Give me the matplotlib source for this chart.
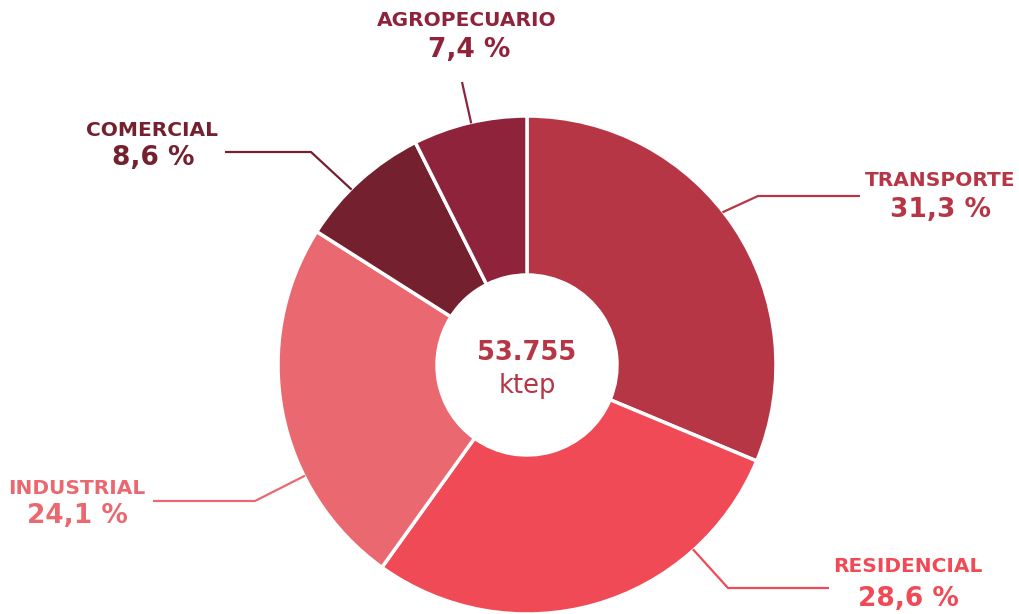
import numpy as np
import matplotlib
matplotlib.use("Agg")
import matplotlib.pyplot as plt

categories = ["TRANSPORTE", "RESIDENCIAL", "INDUSTRIAL", "COMERCIAL", "AGROPECUARIO"]
values = [31.3, 28.6, 24.1, 8.6, 7.4]
pct_labels = ["31,3 %", "28,6 %", "24,1 %", "8,6 %", "7,4 %"]
total_label = "53.755"
unit_label = "ktep"

colors = ["#B73645", "#EF4A55", "#EA6870", "#74202F", "#8E233B"]

W, H = 1019, 614
fig = plt.figure(figsize=(W / 100, H / 100), dpi=100)
ax = fig.add_axes([0, 0, 1, 1])

def py(y):
    return H - y

cx, cy = 527, 365
R, r_in = 249, 90

ax.pie(values, colors=colors, startangle=90, counterclock=False,
       center=(cx, py(cy)), radius=R,
       wedgeprops=dict(width=R - r_in, edgecolor="white", linewidth=2.5))
ax.set_xlim(0, W)
ax.set_ylim(0, H)
ax.set_aspect("equal")
ax.axis("off")

# layout: leader anchor angle (deg, clockwise from top), elbow, end, label centre
anchor_deg = [52, 138, 243.5, 315, 347]
elbows = [(758, 196), (728, 588), (255, 501), (311, 152), None]
ends = [(860, 196), (829, 588), (153, 501), (225, 152), (462, 82)]
label_pos = [(940, 181), (908, 567), (77, 488), (152, 130), (467, 20)]
pct_pos = [(941, 210), (908, 599), (77, 516), (153, 158), (469, 50)]

fam = ["DejaVu Sans"]
for i, cat in enumerate(categories):
    a = np.deg2rad(anchor_deg[i])
    sx = cx + (R - 1) * np.sin(a)
    sy = cy - (R - 1) * np.cos(a)
    pts = [(sx, sy)]
    if elbows[i] is not None:
        pts.append(elbows[i])
    pts.append(ends[i])
    xs = [p[0] for p in pts]
    ys = [py(p[1]) for p in pts]
    ax.plot(xs, ys, color=colors[i], lw=1.6, solid_capstyle="butt")
    ax.text(label_pos[i][0], py(label_pos[i][1]), cat, color=colors[i],
            ha="center", va="center", fontsize=14.5, fontweight="bold", family=fam)
    ax.text(pct_pos[i][0], py(pct_pos[i][1]), pct_labels[i], color=colors[i],
            ha="center", va="center", fontsize=19, fontweight="heavy", family=fam)

ax.text(cx, py(353), total_label, color=colors[0], ha="center", va="center",
        fontsize=18.5, fontweight="heavy", family=fam)
ax.text(cx, py(386), unit_label, color=colors[0], ha="center", va="center",
        fontsize=18.5, family=fam)

fig.savefig("out.png", dpi=100, facecolor="white")
